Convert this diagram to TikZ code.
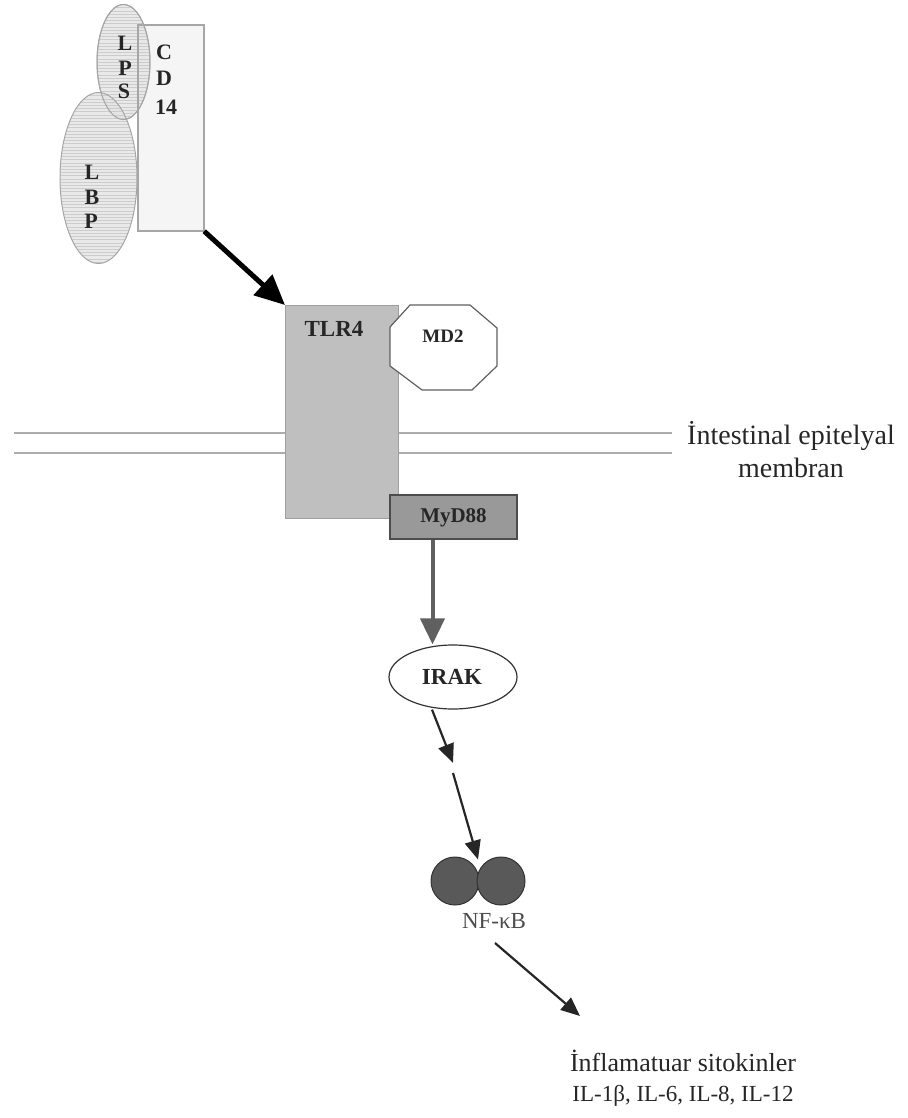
\documentclass[tikz,border=0pt]{standalone}
\usepackage{fontspec}
\setmainfont{Liberation Serif}
\usetikzlibrary{arrows.meta,shapes.geometric,calc}
\begin{document}
\begin{tikzpicture}[x=1pt,y=-1pt,
  stripes/.style={path picture={
    \foreach \k in {0,...,60}{
      \draw[gray!40,line width=0.6pt]
        ([yshift=-\k*3.2pt]path picture bounding box.north west) --
        ([yshift=-\k*3.2pt]path picture bounding box.north east);}}},
  blob/.style={ellipse,draw=gray!70,line width=1pt,fill=gray!20,stripes,inner sep=0pt},
  boldlbl/.style={font=\bfseries\fontsize{22}{24}\selectfont,text=black!85,inner sep=0pt},
  membrane/.style={gray!65,line width=2pt},
  bigarrow/.style={line width=5pt,-{Triangle[length=30pt,width=27pt]}},
  grayarrow/.style={gray!75!black,line width=4pt,-{Triangle[length=26pt,width=24pt]}},
  thinarrow/.style={black!85,line width=2.2pt,-{Triangle[length=19pt,width=16pt]}},
  plainlbl/.style={font=\fontsize{28}{33}\selectfont,text=black!85,align=center,inner sep=0pt}
]
\useasboundingbox (0,0) rectangle (907,1118);

% membrane
\draw[membrane] (14,433) -- (672,433);
\draw[membrane] (14,453) -- (672,453);
\node[plainlbl] (memlbl) at (791,450) {İntestinal epitelyal\\membran};

% CD14 with LPS and LBP
\node[draw=gray!70,line width=1.2pt,fill=gray!8,anchor=north west,inner sep=0pt,
      minimum width=65pt,minimum height=205pt] (cd14) at (138,25) {};
\node[blob,minimum width=53pt,minimum height=115pt,fill opacity=0.85] (lps) at (123.5,62) {};
\node[blob,minimum width=77pt,minimum height=171pt,fill opacity=0.85] (lbp) at (98.5,178) {};
\draw[gray!70,line width=1pt] (lps.center) ellipse [x radius=26.5pt,y radius=57.5pt];
\draw[gray!70,line width=1.2pt] (cd14.north west) rectangle (cd14.south east);

\node[boldlbl] (tl) at (125,43) {L};
\node[boldlbl] (tp) at (125,68) {P};
\node[boldlbl] (ts) at (124,91) {S};
\node[boldlbl] (tc) at (164,52) {C};
\node[boldlbl] (td) at (164,78) {D};
\node[boldlbl] (t14) at (166,107) {14};
\node[boldlbl] (bl) at (92,172) {L};
\node[boldlbl] (bb) at (92,197) {B};
\node[boldlbl] (bp) at (91,221) {P};

% TLR4 receptor and MD2
\node[draw=gray!75,line width=1.2pt,fill=gray!50,anchor=north west,inner sep=0pt,
      minimum width=113pt,minimum height=213pt] (tlr) at (285,305) {};
\node[boldlbl,font=\bfseries\fontsize{23}{25}\selectfont] (tlrlbl) at (334,329) {TLR4};
\draw[gray!75!black,line width=1.2pt,fill=white]
  (410,305) -- (470,305) -- (497,328) -- (497,366) -- (472,390) --
  (422,390) -- (390,366) -- (390,327) -- cycle;
\node[boldlbl,font=\bfseries\fontsize{19}{21}\selectfont] (md2) at (443,336) {MD2};

% MyD88
\node[draw=black!70,line width=1.2pt,fill=gray!80,inner sep=0pt,
      minimum width=127pt,minimum height=44pt] (myd) at (453.5,517) {};
\node[boldlbl,font=\bfseries\fontsize{21}{23}\selectfont] (mydlbl) at (453.5,518) {MyD88};

% IRAK
\node[ellipse,draw=black!80,line width=1.2pt,fill=white,inner sep=0pt,
      minimum width=128pt,minimum height=64pt] (irak) at (453,677) {};
\node[boldlbl,font=\bfseries\fontsize{23}{25}\selectfont] (iraklbl) at (452,677) {IRAK};

% NF-kB dimer
\node[circle,draw=black!80,line width=1pt,fill=black!65,minimum size=48pt,inner sep=0pt] (nfa) at (455,881) {};
\node[circle,draw=black!80,line width=1pt,fill=black!65,minimum size=48pt,inner sep=0pt] (nfb) at (501,881) {};
\node[font=\fontsize{23}{25}\selectfont,text=black!70,inner sep=0pt] (nflbl) at (494,921) {NF-κB};

% cytokines
\node[plainlbl,font=\fontsize{26}{30}\selectfont] (cyto) at (683,1061) {İnflamatuar sitokinler};
\node[plainlbl,font=\fontsize{23}{26}\selectfont] (ils) at (683,1096) {IL-1β, IL-6, IL-8, IL-12};

% signalling arrows
\draw[bigarrow] (cd14.south east) -- (tlr.north west);
\draw[grayarrow] ([xshift=-21pt]myd.south) -- ([xshift=-21pt]myd.south |- irak.north);
\coordinate (gapa) at (453,763);
\coordinate (gapb) at (453,773);
\draw[thinarrow] ([xshift=-21pt]irak.south) -- (gapa);
\draw[thinarrow] (gapb) -- ($(nfa.north)!0.5!(nfb.north)+(0,3)$);
\coordinate (outa) at (495,943);
\coordinate (outb) at (580,1016);
\draw[thinarrow] (outa) -- (outb);
\end{tikzpicture}
\end{document}
